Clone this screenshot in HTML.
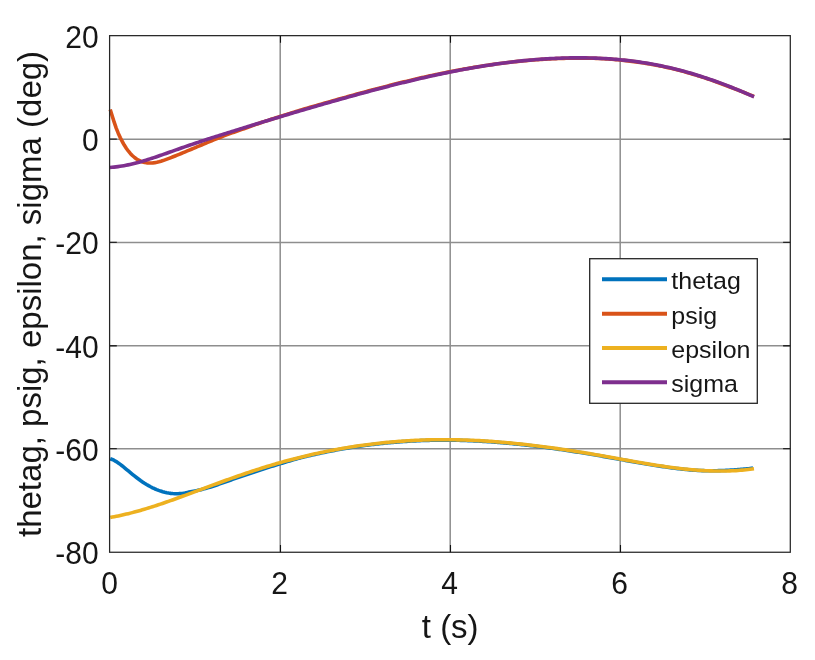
<!DOCTYPE html>
<html><head><meta charset="utf-8"><style>
html,body{margin:0;padding:0;background:#fff;width:815px;height:660px;overflow:hidden}
svg{display:block;will-change:transform}
text{font-family:"Liberation Sans",sans-serif;fill:#161616}
</style></head><body>
<svg width="815" height="660" viewBox="0 0 815 660">
<rect x="0" y="0" width="815" height="660" fill="#fff"/>
<path d="M280.2,35.65V552.3M450.2,35.65V552.3M620.2,35.65V552.3M109.6,139.2H790.3M109.6,242.4H790.3M109.6,345.75H790.3M109.6,448.7H790.3" stroke="#8e8e8e" stroke-width="1.5" fill="none"/>
<path d="M280.5,552.3v-7.2M280.5,35.65v7.2M450.5,552.3v-7.2M450.5,35.65v7.2M620.5,552.3v-7.2M620.5,35.65v7.2" stroke="#111" stroke-width="1.1" fill="none"/>
<path d="M109.6,139.2h7.2M790.3,139.2h-7.2M109.6,242.4h7.2M790.3,242.4h-7.2M109.6,345.75h7.2M790.3,345.75h-7.2M109.6,448.7h7.2M790.3,448.7h-7.2" stroke="#262626" stroke-width="1.3" fill="none"/>
<path d="M110.20,458.71 L112.22,459.47 L114.24,460.45 L116.26,461.62 L118.27,462.95 L120.29,464.41 L122.31,465.97 L124.33,467.61 L126.35,469.29 L128.37,470.99 L130.39,472.68 L132.40,474.34 L134.42,475.96 L136.44,477.53 L138.46,479.05 L140.48,480.51 L142.50,481.90 L144.52,483.23 L146.53,484.48 L148.55,485.66 L150.57,486.76 L152.59,487.78 L154.61,488.73 L156.63,489.59 L158.65,490.38 L160.67,491.08 L162.68,491.70 L164.70,492.24 L166.72,492.70 L168.74,493.07 L170.76,493.36 L172.78,493.57 L174.80,493.68 L176.81,493.72 L178.83,493.66 L180.85,493.52 L182.87,493.29 L184.89,492.97 L187.50,492.43 L189.00,492.13 L190.50,491.84 L192.00,491.55 L193.50,491.26 L195.00,490.97 L196.50,490.66 L198.00,490.34 L199.50,490.00 L201.00,489.63 L202.50,489.23 L204.00,488.83 L205.50,488.43 L207.00,488.03 L208.50,487.61 L210.00,487.18 L211.50,486.72 L213.00,486.25 L214.50,485.75 L216.00,485.22 L217.50,484.69 L219.00,484.16 L220.50,483.63 L222.00,483.10 L223.50,482.57 L225.00,482.04 L226.50,481.52 L228.00,480.99 L229.50,480.47 L231.00,479.94 L232.50,479.42 L234.00,478.90 L235.50,478.38 L237.00,477.86 L238.50,477.35 L240.00,476.83 L241.50,476.32 L243.00,475.81 L244.50,475.30 L246.00,474.80 L247.50,474.29 L249.00,473.79 L250.50,473.29 L252.00,472.79 L253.50,472.29 L255.00,471.79 L256.50,471.29 L258.00,470.80 L259.50,470.30 L261.00,469.81 L262.50,469.31 L264.00,468.82 L265.50,468.34 L267.00,467.85 L268.50,467.37 L270.00,466.89 L271.50,466.41 L273.00,465.93 L274.50,465.46 L276.00,464.99 L277.50,464.53 L279.00,464.07 L280.50,463.61 L282.00,463.16 L283.50,462.71 L285.00,462.27 L286.50,461.83 L288.00,461.38 L289.50,460.93 L291.00,460.47 L292.50,460.03 L294.00,459.59 L295.50,459.16 L297.00,458.74 L298.50,458.33 L300.00,457.95 L301.50,457.58 L303.00,457.21 L304.50,456.84 L306.00,456.48 L307.50,456.12 L309.00,455.77 L310.50,455.42 L312.00,455.08 L313.50,454.74 L315.00,454.40 L316.50,454.07 L318.00,453.74 L319.50,453.41 L321.00,453.09 L322.50,452.77 L324.00,452.46 L325.50,452.15 L327.00,451.85 L328.50,451.55 L330.00,451.25 L331.50,450.96 L333.00,450.67 L334.50,450.38 L336.00,450.10 L337.50,449.82 L339.00,449.55 L340.50,449.28 L342.00,449.02 L343.50,448.76 L345.00,448.50 L346.50,448.25 L348.00,448.00 L349.50,447.75 L351.00,447.51 L352.50,447.27 L354.00,447.04 L355.50,446.81 L357.00,446.58 L358.50,446.36 L360.00,446.14 L361.50,445.93 L363.00,445.72 L364.50,445.51 L366.00,445.31 L367.50,445.11 L369.00,444.92 L370.50,444.73 L372.00,444.54 L373.50,444.36 L375.00,444.18 L376.50,444.01 L378.00,443.84 L379.50,443.67 L381.00,443.51 L382.50,443.35 L384.00,443.19 L385.50,443.04 L387.00,442.89 L388.50,442.75 L390.00,442.61 L391.50,442.47 L393.00,442.34 L394.50,442.21 L396.00,442.09 L397.50,441.97 L399.00,441.85 L400.50,441.74 L402.00,441.63 L403.50,441.53 L405.00,441.43 L406.50,441.33 L408.00,441.24 L409.50,441.15 L411.00,441.06 L412.50,440.98 L414.00,440.90 L415.50,440.83 L417.00,440.75 L418.50,440.69 L420.00,440.63 L421.50,440.57 L423.00,440.51 L424.50,440.46 L426.00,440.41 L427.50,440.37 L429.00,440.33 L430.50,440.29 L432.00,440.26 L433.50,440.23 L435.00,440.21 L436.50,440.19 L438.00,440.17 L439.50,440.16 L441.00,440.15 L442.50,440.14 L444.00,440.14 L445.50,440.14 L447.00,440.15 L448.50,440.16 L450.00,440.17 L451.50,440.19 L453.00,440.21 L454.50,440.23 L456.00,440.26 L457.50,440.29 L459.00,440.32 L460.50,440.36 L462.00,440.40 L463.50,440.44 L465.00,440.49 L466.50,440.54 L468.00,440.60 L469.50,440.66 L471.00,440.72 L472.50,440.78 L474.00,440.85 L475.50,440.92 L477.00,441.00 L478.50,441.07 L480.00,441.16 L481.50,441.24 L483.00,441.33 L484.50,441.42 L486.00,441.51 L487.50,441.61 L489.00,441.71 L490.50,441.81 L492.00,441.91 L493.50,442.02 L495.00,442.13 L496.50,442.25 L498.00,442.36 L499.50,442.48 L501.00,442.61 L502.50,442.73 L504.00,442.86 L505.50,442.99 L507.00,443.13 L508.50,443.26 L510.00,443.40 L511.50,443.54 L513.00,443.69 L514.50,443.84 L516.00,443.99 L517.50,444.14 L519.00,444.29 L520.50,444.45 L522.00,444.61 L523.50,444.78 L525.00,444.94 L526.50,445.11 L528.00,445.28 L529.50,445.45 L531.00,445.63 L532.50,445.80 L534.00,445.98 L535.50,446.16 L537.00,446.35 L538.50,446.54 L540.00,446.72 L541.50,446.91 L543.00,447.11 L544.50,447.30 L546.00,447.50 L547.50,447.70 L549.00,447.90 L550.50,448.11 L552.00,448.31 L553.50,448.52 L555.00,448.73 L556.50,448.94 L558.00,449.15 L559.50,449.37 L561.00,449.59 L562.50,449.81 L564.00,450.03 L565.50,450.25 L567.00,450.48 L568.50,450.70 L570.00,450.93 L571.50,451.16 L573.00,451.39 L574.50,451.63 L576.00,451.86 L577.50,452.10 L579.00,452.34 L580.50,452.58 L582.00,452.82 L583.50,453.06 L585.00,453.31 L586.50,453.55 L588.00,453.80 L589.50,454.05 L591.00,454.30 L592.50,454.55 L594.00,454.81 L595.50,455.06 L597.00,455.32 L598.50,455.58 L600.00,455.84 L601.50,456.10 L603.00,456.36 L604.50,456.62 L606.00,456.88 L607.50,457.15 L609.00,457.41 L610.50,457.68 L612.00,457.95 L613.50,458.22 L615.00,458.48 L616.50,458.75 L618.00,459.02 L619.50,459.29 L621.00,459.56 L622.50,459.83 L624.00,460.10 L625.50,460.37 L627.00,460.64 L628.50,460.90 L630.00,461.17 L631.50,461.44 L633.00,461.70 L634.50,461.97 L636.00,462.23 L637.50,462.49 L639.00,462.75 L640.50,463.01 L642.00,463.27 L643.50,463.52 L645.00,463.77 L646.50,464.03 L648.00,464.27 L649.50,464.52 L651.00,464.77 L652.50,465.01 L654.00,465.25 L655.50,465.48 L657.00,465.72 L658.50,465.95 L660.00,466.17 L661.50,466.40 L663.00,466.62 L664.50,466.83 L666.00,467.05 L667.50,467.26 L669.00,467.46 L670.50,467.66 L672.00,467.86 L673.50,468.06 L675.00,468.24 L676.50,468.43 L678.00,468.61 L679.50,468.78 L681.00,468.95 L682.50,469.12 L684.00,469.28 L685.50,469.43 L687.00,469.58 L688.50,469.73 L690.00,469.87 L691.50,470.00 L693.00,470.11 L694.50,470.22 L696.00,470.32 L697.50,470.41 L699.00,470.49 L700.50,470.55 L702.00,470.61 L703.50,470.66 L705.00,470.70 L706.50,470.73 L708.00,470.75 L709.50,470.76 L711.00,470.76 L712.50,470.76 L714.00,470.75 L715.50,470.73 L717.00,470.70 L718.50,470.66 L720.00,470.62 L721.50,470.57 L723.00,470.52 L724.50,470.46 L726.00,470.39 L727.50,470.31 L729.00,470.23 L730.50,470.15 L732.00,470.06 L733.50,469.96 L735.00,469.86 L736.50,469.76 L738.00,469.65 L739.50,469.53 L741.00,469.41 L742.50,469.28 L744.00,469.15 L745.50,469.00 L747.00,468.84 L748.50,468.67 L750.00,468.49 L751.50,468.30 L753.00,468.10" stroke="#0072BD" stroke-width="3.6" fill="none" stroke-linejoin="round" stroke-linecap="butt"/>
<path d="M110.20,109.54 L112.23,115.98 L114.26,122.42 L116.29,128.32 L118.32,133.40 L120.35,137.83 L122.37,141.77 L124.40,145.30 L126.43,148.44 L128.46,151.21 L130.49,153.64 L132.52,155.73 L134.55,157.51 L136.58,159.00 L138.61,160.23 L140.64,161.20 L142.66,161.95 L144.69,162.49 L146.72,162.84 L148.75,163.01 L150.78,163.03 L152.81,162.90 L154.84,162.64 L156.87,162.27 L158.90,161.79 L160.93,161.22 L162.95,160.58 L164.98,159.88 L167.01,159.14 L169.04,158.37 L171.07,157.57 L173.10,156.77 L175.13,155.96 L177.16,155.14 L179.19,154.32 L181.22,153.48 L183.25,152.65 L185.27,151.80 L187.30,150.96 L189.33,150.11 L191.36,149.26 L193.39,148.40 L195.42,147.55 L197.45,146.69 L199.48,145.84 L201.51,144.99 L203.54,144.14 L205.56,143.29 L207.59,142.45 L209.62,141.61 L211.65,140.78 L213.68,139.95 L215.71,139.13 L217.74,138.32 L219.77,137.52 L221.80,136.73 L223.83,135.94 L225.85,135.17 L227.88,134.41 L229.91,133.66 L231.94,132.93 L233.97,132.21 L236.00,131.51 L238.00,130.83 L240.00,130.11 L242.00,129.39 L244.00,128.68 L246.00,127.96 L248.00,127.24 L250.00,126.53 L252.00,125.82 L254.00,125.10 L256.00,124.39 L258.00,123.68 L260.00,122.97 L262.00,122.26 L264.00,121.62 L266.00,120.98 L268.00,120.34 L270.00,119.70 L272.00,119.07 L274.00,118.43 L276.00,117.80 L278.00,117.17 L280.00,116.53 L282.00,115.90 L284.00,115.27 L286.00,114.64 L288.00,114.01 L290.00,113.39 L292.00,112.76 L294.00,112.14 L296.00,111.51 L298.00,110.89 L300.00,110.27 L302.00,109.68 L304.00,109.10 L306.00,108.51 L308.00,107.93 L310.00,107.35 L312.00,106.77 L314.00,106.19 L316.00,105.61 L318.00,105.04 L320.00,104.46 L322.00,103.89 L324.00,103.31 L326.00,102.74 L328.00,102.17 L330.00,101.61 L332.00,101.04 L334.00,100.47 L336.00,99.91 L338.00,99.35 L340.00,98.79 L342.00,98.23 L344.00,97.67 L346.00,97.12 L348.00,96.56 L350.00,96.01 L352.00,95.46 L354.00,94.91 L356.00,94.36 L358.00,93.81 L360.00,93.27 L362.00,92.73 L364.00,92.18 L366.00,91.65 L368.00,91.11 L370.00,90.58 L372.00,90.04 L374.00,89.51 L376.00,88.99 L378.00,88.46 L380.00,87.94 L382.00,87.42 L384.00,86.90 L386.00,86.38 L388.00,85.87 L390.00,85.36 L392.00,84.85 L394.00,84.35 L396.00,83.85 L398.00,83.35 L400.00,82.85 L402.00,82.36 L404.00,81.87 L406.00,81.38 L408.00,80.90 L410.00,80.42 L412.00,79.94 L414.00,79.47 L416.00,79.00 L418.00,78.53 L420.00,78.07 L422.00,77.62 L424.00,77.17 L426.00,76.73 L428.00,76.29 L430.00,75.86 L432.00,75.43 L434.00,75.00 L436.00,74.58 L438.00,74.16 L440.00,73.75 L442.00,73.34 L444.00,72.93 L446.00,72.53 L448.00,72.13 L450.00,71.74 L452.00,71.35 L454.00,70.97 L456.00,70.59 L458.00,70.22 L460.00,69.85 L462.00,69.48 L464.00,69.12 L466.00,68.76 L468.00,68.41 L470.00,68.07 L472.00,67.73 L474.00,67.39 L476.00,67.06 L478.00,66.74 L480.00,66.42 L482.00,66.10 L484.00,65.79 L486.00,65.49 L488.00,65.19 L490.00,64.90 L492.00,64.61 L494.00,64.33 L496.00,64.05 L498.00,63.78 L500.00,63.51 L502.00,63.25 L504.00,63.00 L506.00,62.75 L508.00,62.51 L510.00,62.27 L512.00,62.04 L514.00,61.81 L516.00,61.59 L518.00,61.38 L520.00,61.18 L522.00,60.98 L524.00,60.78 L526.00,60.60 L528.00,60.42 L530.00,60.24 L532.00,60.08 L534.00,59.92 L536.00,59.76 L538.00,59.62 L540.00,59.48 L542.00,59.35 L544.00,59.22 L546.00,59.10 L548.00,58.99 L550.00,58.89 L552.00,58.79 L554.00,58.70 L556.00,58.62 L558.00,58.55 L560.00,58.48 L562.00,58.41 L564.00,58.34 L566.00,58.28 L568.00,58.23 L570.00,58.19 L572.00,58.15 L574.00,58.13 L576.00,58.11 L578.00,58.10 L580.00,58.09 L582.00,58.10 L584.00,58.11 L586.00,58.14 L588.00,58.17 L590.00,58.21 L592.00,58.25 L594.00,58.31 L596.00,58.38 L598.00,58.45 L600.00,58.54 L602.00,58.64 L604.00,58.75 L606.00,58.87 L608.00,59.01 L610.00,59.15 L612.00,59.30 L614.00,59.46 L616.00,59.63 L618.00,59.80 L620.00,59.99 L622.00,60.19 L624.00,60.40 L626.00,60.62 L628.00,60.85 L630.00,61.09 L632.00,61.34 L634.00,61.60 L636.00,61.87 L638.00,62.15 L640.00,62.45 L642.00,62.74 L644.00,63.05 L646.00,63.37 L648.00,63.70 L650.00,64.05 L652.00,64.40 L654.00,64.76 L656.00,65.14 L658.00,65.53 L660.00,65.93 L662.00,66.34 L664.00,66.76 L666.00,67.19 L668.00,67.64 L670.00,68.09 L672.00,68.56 L674.00,69.05 L676.00,69.54 L678.00,70.04 L680.00,70.56 L682.00,71.09 L684.00,71.63 L686.00,72.18 L688.00,72.74 L690.00,73.31 L692.00,73.90 L694.00,74.49 L696.00,75.10 L698.00,75.72 L700.00,76.35 L702.00,76.99 L704.00,77.64 L706.00,78.30 L708.00,78.97 L710.00,79.65 L712.00,80.34 L714.00,81.04 L716.00,81.76 L718.00,82.48 L720.00,83.21 L722.00,83.95 L724.00,84.71 L726.00,85.47 L728.00,86.24 L730.00,87.02 L732.00,87.77 L734.00,88.53 L736.00,89.30 L738.00,90.08 L740.00,90.87 L742.00,91.67 L744.00,92.47 L746.00,93.27 L748.00,94.07 L750.00,94.88 L752.00,95.69 L754.00,96.52" stroke="#D95319" stroke-width="3.6" fill="none" stroke-linejoin="round" stroke-linecap="butt"/>
<path d="M110.30,517.43 L112.31,517.08 L114.31,516.71 L116.32,516.32 L118.32,515.91 L120.33,515.49 L122.33,515.05 L124.34,514.60 L126.34,514.12 L128.35,513.64 L130.35,513.13 L132.36,512.62 L134.36,512.09 L136.37,511.54 L138.37,510.99 L140.38,510.42 L142.38,509.84 L144.39,509.24 L146.40,508.64 L148.40,508.02 L150.41,507.39 L152.41,506.76 L154.42,506.11 L156.42,505.46 L158.43,504.79 L160.43,504.12 L162.44,503.44 L164.44,502.75 L166.45,502.06 L168.45,501.36 L170.46,500.65 L172.46,499.94 L174.47,499.22 L176.47,498.50 L178.48,497.77 L180.49,497.04 L182.49,496.30 L184.50,495.57 L186.50,494.83 L188.51,494.08 L190.51,493.34 L192.52,492.59 L194.52,491.85 L196.53,491.10 L198.53,490.36 L200.54,489.61 L202.54,488.87 L204.55,488.12 L206.55,487.38 L208.56,486.64 L210.56,485.90 L212.57,485.16 L214.58,484.43 L216.58,483.69 L218.59,482.96 L220.59,482.23 L222.60,481.51 L224.60,480.78 L226.61,480.06 L228.61,479.35 L230.62,478.63 L232.62,477.92 L234.63,477.22 L236.63,476.52 L238.64,475.82 L240.64,475.13 L242.65,474.44 L244.65,473.75 L246.66,473.07 L248.67,472.40 L250.67,471.73 L252.68,471.07 L254.68,470.41 L256.69,469.76 L258.69,469.11 L260.70,468.47 L262.70,467.84 L264.71,467.21 L266.71,466.59 L268.72,465.98 L270.72,465.37 L272.73,464.78 L274.73,464.18 L276.74,463.60 L278.74,463.02 L280.75,462.45 L282.76,461.89 L284.76,461.34 L286.77,460.79 L288.77,460.25 L290.78,459.71 L292.78,459.19 L294.79,458.67 L296.79,458.15 L298.80,457.65 L300.80,457.15 L302.81,456.66 L304.81,456.18 L306.82,455.70 L308.82,455.23 L310.83,454.77 L312.83,454.31 L314.84,453.86 L316.85,453.42 L318.85,452.99 L320.86,452.56 L322.86,452.14 L324.87,451.73 L326.87,451.32 L328.88,450.92 L330.88,450.53 L332.89,450.15 L334.89,449.77 L336.90,449.40 L338.90,449.04 L340.91,448.68 L342.91,448.33 L344.92,447.99 L346.92,447.65 L348.93,447.32 L350.94,447.00 L352.94,446.69 L354.95,446.38 L356.95,446.08 L358.96,445.79 L360.96,445.50 L362.97,445.22 L364.97,444.95 L366.98,444.68 L368.98,444.42 L370.99,444.17 L372.99,443.93 L375.00,443.69 L377.00,443.46 L379.01,443.24 L381.01,443.02 L383.02,442.81 L385.03,442.61 L387.03,442.41 L389.04,442.22 L391.04,442.04 L393.05,441.86 L395.05,441.69 L397.06,441.53 L399.06,441.38 L401.07,441.23 L403.07,441.09 L405.08,440.95 L407.08,440.82 L409.09,440.70 L411.09,440.59 L413.10,440.48 L415.10,440.38 L417.11,440.29 L419.12,440.20 L421.12,440.12 L423.13,440.05 L425.13,439.98 L427.14,439.92 L429.14,439.87 L431.15,439.82 L433.15,439.78 L435.16,439.75 L437.16,439.72 L439.17,439.71 L441.17,439.69 L443.18,439.69 L445.18,439.69 L447.19,439.70 L449.20,439.71 L451.20,439.73 L453.21,439.76 L455.21,439.79 L457.22,439.83 L459.22,439.88 L461.23,439.93 L463.23,439.99 L465.24,440.05 L467.24,440.12 L469.25,440.20 L471.25,440.28 L473.26,440.37 L475.26,440.46 L477.27,440.56 L479.27,440.67 L481.28,440.78 L483.29,440.90 L485.29,441.02 L487.30,441.15 L489.30,441.28 L491.31,441.42 L493.31,441.56 L495.32,441.71 L497.32,441.87 L499.33,442.03 L501.33,442.19 L503.34,442.36 L505.34,442.54 L507.35,442.72 L509.35,442.90 L511.36,443.09 L513.36,443.28 L515.37,443.48 L517.38,443.69 L519.38,443.90 L521.39,444.11 L523.39,444.33 L525.40,444.55 L527.40,444.77 L529.41,445.00 L531.41,445.24 L533.42,445.48 L535.42,445.72 L537.43,445.97 L539.43,446.22 L541.44,446.47 L543.44,446.73 L545.45,446.99 L547.45,447.26 L549.46,447.53 L551.47,447.81 L553.47,448.08 L555.48,448.36 L557.48,448.65 L559.49,448.94 L561.49,449.23 L563.50,449.52 L565.50,449.82 L567.51,450.13 L569.51,450.43 L571.52,450.74 L573.52,451.05 L575.53,451.36 L577.53,451.68 L579.54,452.00 L581.54,452.32 L583.55,452.65 L585.56,452.98 L587.56,453.31 L589.57,453.64 L591.57,453.98 L593.58,454.32 L595.58,454.66 L597.59,455.01 L599.59,455.35 L601.60,455.70 L603.60,456.05 L605.61,456.41 L607.61,456.76 L609.62,457.12 L611.62,457.48 L613.63,457.84 L615.63,458.20 L617.64,458.56 L619.65,458.92 L621.65,459.28 L623.66,459.65 L625.66,460.01 L627.67,460.37 L629.67,460.73 L631.68,461.08 L633.68,461.44 L635.69,461.79 L637.69,462.15 L639.70,462.50 L641.70,462.84 L643.71,463.19 L645.71,463.53 L647.72,463.86 L649.72,464.19 L651.73,464.52 L653.74,464.85 L655.74,465.16 L657.75,465.48 L659.75,465.78 L661.76,466.09 L663.76,466.38 L665.77,466.67 L667.77,466.96 L669.78,467.23 L671.78,467.50 L673.79,467.76 L675.79,468.02 L677.80,468.26 L679.80,468.50 L681.81,468.73 L683.81,468.95 L685.82,469.16 L687.83,469.36 L689.83,469.55 L691.84,469.73 L693.84,469.90 L695.85,470.06 L697.85,470.21 L699.86,470.35 L701.86,470.48 L703.87,470.59 L705.87,470.69 L707.88,470.78 L709.88,470.86 L711.89,470.92 L713.89,470.98 L715.90,471.01 L717.90,471.04 L719.91,471.05 L721.92,471.04 L723.92,471.02 L725.93,470.99 L727.93,470.94 L729.94,470.87 L731.94,470.79 L733.95,470.69 L735.95,470.58 L737.96,470.45 L739.96,470.30 L741.97,470.13 L743.97,469.95 L745.98,469.75 L747.98,469.53 L749.99,469.29 L751.99,469.03 L754.00,468.76" stroke="#EDB120" stroke-width="3.6" fill="none" stroke-linejoin="round" stroke-linecap="butt"/>
<path d="M110.00,167.44 L112.00,167.29 L114.00,167.10 L116.00,166.88 L118.00,166.62 L120.00,166.33 L122.00,166.01 L124.00,165.66 L126.00,165.29 L128.00,164.88 L130.00,164.45 L132.00,163.99 L134.00,163.51 L136.00,163.00 L138.00,162.47 L140.00,161.92 L142.00,161.36 L144.00,160.77 L146.00,160.16 L148.00,159.55 L150.00,158.91 L152.00,158.26 L154.00,157.60 L156.00,156.93 L158.00,156.25 L160.00,155.56 L162.00,154.86 L164.00,154.16 L166.00,153.46 L168.00,152.75 L170.00,152.04 L172.00,151.33 L174.00,150.62 L176.00,149.91 L178.00,149.21 L180.00,148.50 L182.00,147.80 L184.00,147.11 L186.00,146.41 L188.00,145.73 L190.00,145.04 L192.00,144.36 L194.00,143.69 L196.00,143.02 L198.00,142.35 L200.00,141.69 L202.00,141.03 L204.00,140.37 L206.00,139.72 L208.00,139.07 L210.00,138.43 L212.00,137.78 L214.00,137.14 L216.00,136.51 L218.00,135.87 L220.00,135.24 L222.00,134.61 L224.00,133.99 L226.00,133.36 L228.00,132.74 L230.00,132.11 L232.00,131.49 L234.00,130.87 L236.00,130.25 L238.00,129.63 L240.00,129.01 L242.00,128.39 L244.00,127.78 L246.00,127.16 L248.00,126.54 L250.00,125.93 L252.00,125.32 L254.00,124.70 L256.00,124.09 L258.00,123.48 L260.00,122.87 L262.00,122.26 L264.00,121.65 L266.00,121.04 L268.00,120.44 L270.00,119.83 L272.00,119.23 L274.00,118.62 L276.00,118.02 L278.00,117.42 L280.00,116.82 L282.00,116.22 L284.00,115.62 L286.00,115.02 L288.00,114.42 L290.00,113.83 L292.00,113.24 L294.00,112.64 L296.00,112.05 L298.00,111.46 L300.00,110.87 L302.00,110.28 L304.00,109.69 L306.00,109.11 L308.00,108.52 L310.00,107.94 L312.00,107.36 L314.00,106.78 L316.00,106.20 L318.00,105.62 L320.00,105.04 L322.00,104.47 L324.00,103.89 L326.00,103.32 L328.00,102.75 L330.00,102.18 L332.00,101.61 L334.00,101.05 L336.00,100.48 L338.00,99.92 L340.00,99.35 L342.00,98.79 L344.00,98.23 L346.00,97.68 L348.00,97.12 L350.00,96.57 L352.00,96.01 L354.00,95.46 L356.00,94.91 L358.00,94.36 L360.00,93.82 L362.00,93.27 L364.00,92.73 L366.00,92.19 L368.00,91.65 L370.00,91.12 L372.00,90.58 L374.00,90.05 L376.00,89.52 L378.00,88.99 L380.00,88.47 L382.00,87.95 L384.00,87.43 L386.00,86.91 L388.00,86.40 L390.00,85.88 L392.00,85.37 L394.00,84.87 L396.00,84.37 L398.00,83.86 L400.00,83.37 L402.00,82.87 L404.00,82.38 L406.00,81.89 L408.00,81.41 L410.00,80.92 L412.00,80.45 L414.00,79.97 L416.00,79.50 L418.00,79.03 L420.00,78.57 L422.00,78.10 L424.00,77.65 L426.00,77.19 L428.00,76.74 L430.00,76.30 L432.00,75.85 L434.00,75.41 L436.00,74.98 L438.00,74.55 L440.00,74.12 L442.00,73.70 L444.00,73.28 L446.00,72.87 L448.00,72.46 L450.00,72.05 L452.00,71.65 L454.00,71.26 L456.00,70.86 L458.00,70.48 L460.00,70.10 L462.00,69.72 L464.00,69.34 L466.00,68.98 L468.00,68.61 L470.00,68.26 L472.00,67.90 L474.00,67.55 L476.00,67.21 L478.00,66.87 L480.00,66.54 L482.00,66.21 L484.00,65.89 L486.00,65.57 L488.00,65.26 L490.00,64.96 L492.00,64.66 L494.00,64.36 L496.00,64.07 L498.00,63.79 L500.00,63.51 L502.00,63.24 L504.00,62.98 L506.00,62.72 L508.00,62.47 L510.00,62.22 L512.00,61.98 L514.00,61.74 L516.00,61.51 L518.00,61.29 L520.00,61.08 L522.00,60.87 L524.00,60.66 L526.00,60.47 L528.00,60.28 L530.00,60.09 L532.00,59.92 L534.00,59.75 L536.00,59.58 L538.00,59.43 L540.00,59.28 L542.00,59.14 L544.00,59.00 L546.00,58.87 L548.00,58.75 L550.00,58.64 L552.00,58.53 L554.00,58.43 L556.00,58.34 L558.00,58.26 L560.00,58.18 L562.00,58.11 L564.00,58.05 L566.00,58.00 L568.00,57.95 L570.00,57.91 L572.00,57.88 L574.00,57.86 L576.00,57.85 L578.00,57.84 L580.00,57.84 L582.00,57.85 L584.00,57.87 L586.00,57.90 L588.00,57.94 L590.00,57.98 L592.00,58.03 L594.00,58.10 L596.00,58.17 L598.00,58.25 L600.00,58.34 L602.00,58.43 L604.00,58.54 L606.00,58.66 L608.00,58.79 L610.00,58.92 L612.00,59.07 L614.00,59.22 L616.00,59.39 L618.00,59.56 L620.00,59.74 L622.00,59.94 L624.00,60.14 L626.00,60.36 L628.00,60.58 L630.00,60.82 L632.00,61.06 L634.00,61.32 L636.00,61.58 L638.00,61.86 L640.00,62.15 L642.00,62.44 L644.00,62.75 L646.00,63.07 L648.00,63.40 L650.00,63.75 L652.00,64.10 L654.00,64.46 L656.00,64.84 L658.00,65.23 L660.00,65.63 L662.00,66.04 L664.00,66.46 L666.00,66.89 L668.00,67.34 L670.00,67.79 L672.00,68.26 L674.00,68.75 L676.00,69.24 L678.00,69.74 L680.00,70.26 L682.00,70.79 L684.00,71.33 L686.00,71.88 L688.00,72.44 L690.00,73.01 L692.00,73.60 L694.00,74.19 L696.00,74.80 L698.00,75.42 L700.00,76.05 L702.00,76.69 L704.00,77.34 L706.00,78.00 L708.00,78.67 L710.00,79.35 L712.00,80.04 L714.00,80.74 L716.00,81.46 L718.00,82.18 L720.00,82.91 L722.00,83.65 L724.00,84.41 L726.00,85.17 L728.00,85.94 L730.00,86.72 L732.00,87.51 L734.00,88.31 L736.00,89.12 L738.00,89.94 L740.00,90.77 L742.00,91.61 L744.00,92.45 L746.00,93.31 L748.00,94.17 L750.00,95.04 L752.00,95.93 L754.00,96.82" stroke="#7E2F8E" stroke-width="3.6" fill="none" stroke-linejoin="round" stroke-linecap="butt"/>
<rect x="109.6" y="35.65" width="680.7" height="516.6" stroke="#262626" stroke-width="1.25" fill="none"/>
<text transform="translate(98.6,47.7) scale(1,1.06)" text-anchor="end" font-size="30">20</text>
<text transform="translate(98.6,151.1) scale(1,1.06)" text-anchor="end" font-size="30">0</text>
<text transform="translate(98.6,254.3) scale(1,1.06)" text-anchor="end" font-size="30">-20</text>
<text transform="translate(98.6,357.5) scale(1,1.06)" text-anchor="end" font-size="30">-40</text>
<text transform="translate(98.6,460.6) scale(1,1.06)" text-anchor="end" font-size="30">-60</text>
<text transform="translate(98.6,564.1) scale(1,1.06)" text-anchor="end" font-size="30">-80</text>
<text transform="translate(109.6,593.8) scale(1,1.06)" text-anchor="middle" font-size="30">0</text>
<text transform="translate(279.6,593.8) scale(1,1.06)" text-anchor="middle" font-size="30">2</text>
<text transform="translate(449.6,593.8) scale(1,1.06)" text-anchor="middle" font-size="30">4</text>
<text transform="translate(619.6,593.8) scale(1,1.06)" text-anchor="middle" font-size="30">6</text>
<text transform="translate(789.6,593.8) scale(1,1.06)" text-anchor="middle" font-size="30">8</text>
<text x="421.8" y="637.8" font-size="33">t (s)</text>
<text transform="translate(41.4,537) rotate(-90)" x="0" y="0" font-size="33">thetag, psig, epsilon, sigma (deg)</text>
<rect x="589.7" y="258.7" width="167.6" height="144.6" fill="#fff" stroke="#262626" stroke-width="1.3"/>
<path d="M602,279.3H667" stroke="#0072BD" stroke-width="4"/>
<text transform="translate(671.3,289.1) scale(1,0.955)" font-size="25">thetag</text>
<path d="M602,313.7H667" stroke="#D95319" stroke-width="4"/>
<text transform="translate(671.3,323.5) scale(1,0.955)" font-size="25">psig</text>
<path d="M602,347.9H667" stroke="#EDB120" stroke-width="4"/>
<text transform="translate(671.3,357.7) scale(1,0.955)" font-size="25">epsilon</text>
<path d="M602,382.2H667" stroke="#7E2F8E" stroke-width="4"/>
<text transform="translate(671.3,392.0) scale(1,0.955)" font-size="25">sigma</text>
</svg>
</body></html>
